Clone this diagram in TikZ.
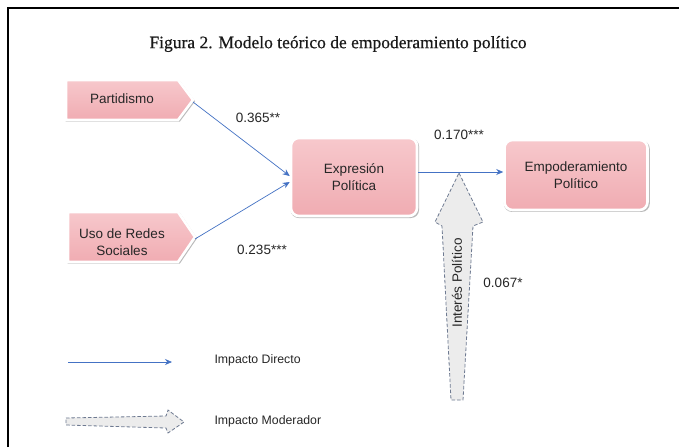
\documentclass[tikz,border=0pt]{standalone}
\usepackage{fontspec}
\setmainfont{Liberation Sans}
\newfontfamily\titlefont[FakeBold=0.5]{Liberation Serif}
\usetikzlibrary{shadows,arrows.meta}
\definecolor{pinkfill}{RGB}{240,172,178}
\definecolor{pinklight}{RGB}{247,200,204}
\definecolor{arrblue}{RGB}{68,114,196}
\definecolor{modedge}{RGB}{110,122,145}
\definecolor{modfill}{RGB}{236,236,236}
\tikzset{
  pinkshape/.style={draw=white, line width=2.6pt, top color=pinklight, bottom color=pinkfill,
    drop shadow={shadow xshift=0.8pt, shadow yshift=-1.2pt, shadow scale=1.02, opacity=0.45, fill=black!60}},
  nodetext/.style={align=center, font=\fontsize{13.5}{17}\selectfont, text=black!85},
  rbox/.style={pinkshape, nodetext, rounded corners=8pt, inner sep=0pt},
  direct/.style={arrblue, line width=0.7pt, -{Stealth[length=7pt,width=6pt]}},
  moder/.style={draw=modedge, fill=modfill, line width=0.8pt, dash pattern=on 3.5pt off 2pt},
  coef/.style={font=\fontsize{13.5}{15}\selectfont, text=black!85},
  legtext/.style={font=\fontsize{12.3}{14}\selectfont, text=black!85, anchor=west}
}
\begin{document}
\begin{tikzpicture}[x=1pt,y=-1pt]
\useasboundingbox (0,0) rectangle (679,447);
\fill[white] (0,0) rectangle (679,447);
% frame
\draw[line width=1.3pt] (8,447) -- (8,8) -- (679,8);
% title
\node[font=\titlefont\fontsize{17.5}{20}\selectfont, text=black!90] (title) at (338,44) {Figura 2. Modelo teórico de empoderamiento político};
% input shapes
\draw[pinkshape] (66,80) -- (178,80) -- (193,100) -- (178,120) -- (66,120) -- cycle;
\coordinate (parttip) at (193,102);
\node[nodetext] (part) at (122,99) {Partidismo};
\draw[pinkshape] (68,212) -- (178,212) -- (195,237) -- (178,262) -- (68,262) -- cycle;
\coordinate (usotip) at (195,239);
\node[nodetext] (uso) at (122,242) {Uso de Redes\\Sociales};
% main nodes
\node[rbox, minimum width=126pt, minimum height=78pt] (expr) at (354,177) {Expresión\\Política};
\node[rbox, minimum width=143pt, minimum height=70pt] (emp) at (576,175) {Empoderamiento\\Político};
% moderator big arrow
\coordinate (modtip) at (459,173);
\draw[moder] (modtip) -- (483,222) -- (473,226) -- (463,400) -- (451,400) -- (442,226) -- (435,222) -- cycle;
\node[rotate=90, font=\fontsize{13.5}{15}\selectfont, text=black!85] (interes) at (457,283) {Interés Político};
% direct arrows
\draw[direct] (parttip) -- ([yshift=1pt]expr.west);
\draw[direct] (usotip) -- ([yshift=-5pt]expr.west);
\draw[direct] ([yshift=5pt]expr.east) -- ([yshift=3pt]emp.west);
% coefficients
\node[coef] (c1) at (258,118) {0.365**};
\node[coef] (c2) at (262,250) {0.235***};
\node[coef] (c3) at (459,135) {0.170***};
\node[coef] (c4) at (503,283) {0.067*};
% legend
\coordinate (l1a) at (68,362);
\coordinate (l1b) at (172,362);
\draw[direct] (l1a) -- (l1b);
\node[legtext] (t1) at (211,360) {Impacto Directo};
\draw[moder] (66,418) -- (166,416) -- (168,410) -- (184,422) -- (168,433) -- (166,428) -- (66,425) -- cycle;
\node[legtext] (t2) at (211,421) {Impacto Moderador};
\end{tikzpicture}
\end{document}
